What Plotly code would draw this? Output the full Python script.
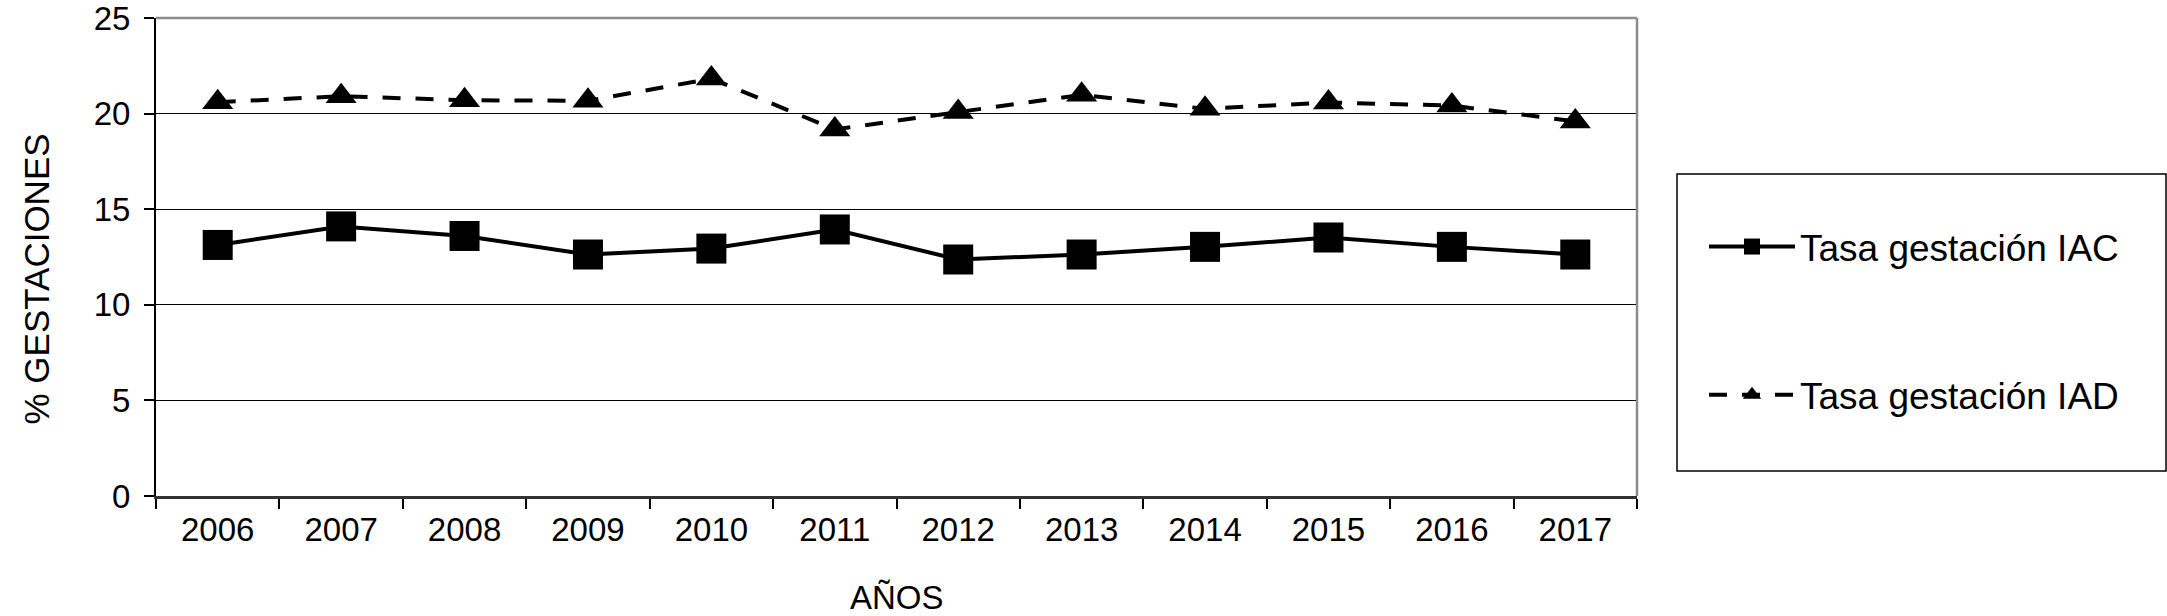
import plotly.graph_objects as go

years = ["2006", "2007", "2008", "2009", "2010", "2011", "2012", "2013", "2014", "2015", "2016", "2017"]
iac = [13.13, 14.1, 13.6, 12.63, 12.94, 13.94, 12.37, 12.63, 13.03, 13.52, 13.03, 12.63]
iad = [20.6, 20.91, 20.7, 20.67, 21.83, 19.17, 20.08, 20.98, 20.25, 20.58, 20.42, 19.59]
name_iac = "Tasa gestación IAC"
name_iad = "Tasa gestación IAD"
y_ticks = [0, 5, 10, 15, 20, 25]

FONT = "Liberation Sans, Arial, sans-serif"

W, H = 2167, 616
L, T = 156, 18
R = W - 1637
B = H - 496
pw = W - L - R
ph = H - T - B

def px_x(x):
    return (x - L) / pw

def px_y(y):
    return (H - B - y) / ph

fig = go.Figure()
fig.add_trace(go.Scatter(
    x=years, y=iac, name=name_iac, mode="lines+markers",
    line=dict(color="black", width=4),
    marker=dict(symbol="square", size=30, color="black"),
    legendgroup="a",
))
fig.add_trace(go.Scatter(
    x=years, y=iad, name=name_iad, mode="lines+markers",
    line=dict(color="black", width=4, dash="18px,15px"),
    marker=dict(symbol="triangle-up", size=27, color="black"),
    legendgroup="b",
))

fig.update_layout(
    width=W, height=H,
    margin=dict(l=L, r=R, t=T, b=B, pad=0, autoexpand=False),
    paper_bgcolor="white", plot_bgcolor="white",
    font=dict(family=FONT, size=33, color="black"),
    showlegend=True,
    legend=dict(
        x=px_x(1704), y=px_y(216), xanchor="left", yanchor="top",
        font=dict(size=37, family=FONT, color="black"),
        bgcolor="rgba(0,0,0,0)", borderwidth=0,
        traceorder="grouped", tracegroupgap=97, itemwidth=86,
    ),
    xaxis=dict(
        type="category", categoryorder="array", categoryarray=years,
        automargin=False,
        showgrid=False, zeroline=False,
        showline=True, linecolor="#333333", linewidth=2.5,
        ticks="outside", tickson="boundaries", ticklen=10, tickwidth=1.5, tickcolor="black",
        tickfont=dict(size=33, family=FONT, color="black"),
        ticklabelstandoff=3,
        range=[-0.5, 11.5],
    ),
    yaxis=dict(
        range=[0, 25], tickvals=y_ticks,
        automargin=False,
        showgrid=True, gridcolor="black", gridwidth=1.3,
        zeroline=False,
        showline=True, linecolor="black", linewidth=2,
        ticks="outside", ticklen=10, tickwidth=1.5, tickcolor="black",
        tickfont=dict(size=33, family=FONT, color="black"),
        ticklabelstandoff=7, ticklabeloverflow="allow",
    ),
    shapes=[
        dict(type="line", xref="paper", yref="paper", x0=0, x1=1, y0=1, y1=1,
             line=dict(color="#8c8c8c", width=2.5), layer="above"),
        dict(type="line", xref="paper", yref="paper", x0=1, x1=1, y0=0, y1=1,
             line=dict(color="#8c8c8c", width=2.5), layer="above"),
        dict(type="rect", xref="paper", yref="paper",
             x0=px_x(1677), x1=px_x(2166), y0=px_y(471), y1=px_y(174),
             line=dict(color="black", width=1.5), fillcolor="rgba(0,0,0,0)"),
    ],
    annotations=[
        dict(text="% GESTACIONES", textangle=-90, xref="paper", yref="paper",
             x=0, xshift=35.5 - L, y=px_y(279), xanchor="center", yanchor="middle",
             showarrow=False, font=dict(size=35, family=FONT, color="black")),
        dict(text="AÑOS", xref="paper", yref="paper",
             x=0.5, y=px_y(597), xanchor="center", yanchor="middle",
             showarrow=False, font=dict(size=33, family=FONT, color="black")),
    ],
)

fig.write_html("out.html", config={"displayModeBar": False},
               post_script="document.body.style.margin='0px';")
